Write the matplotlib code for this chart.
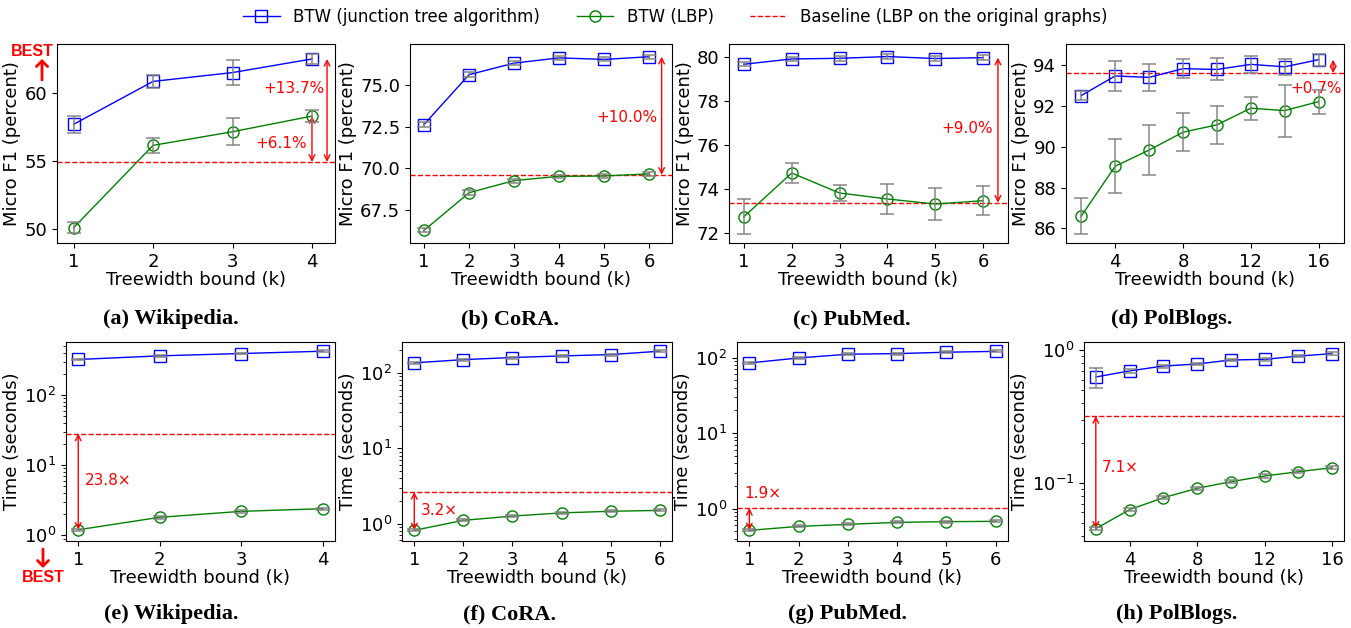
import matplotlib
matplotlib.use('Agg')
import matplotlib.pyplot as plt
from matplotlib.lines import Line2D

# ---- data ----
k_small = [1, 2, 3, 4]
k_six = [1, 2, 3, 4, 5, 6]
k_pol = [2, 4, 6, 8, 10, 12, 14, 16]

# Micro F1 (percent)
wiki_jt = [57.7, 60.85, 61.5, 62.5]
wiki_jt_err = [0.64, 0.5, 0.9, 0.37]
wiki_lbp = [50.1, 56.15, 57.15, 58.3]
wiki_lbp_err = [0.42, 0.54, 1.0, 0.47]
wiki_base = 54.93

cora_jt = [72.62, 75.6, 76.29, 76.6, 76.51, 76.67]
cora_jt_err = [0.15, 0.15, 0.12, 0.12, 0.12, 0.12]
cora_lbp = [66.3, 68.55, 69.28, 69.53, 69.55, 69.68]
cora_lbp_err = [0.12, 0.15, 0.12, 0.1, 0.1, 0.12]
cora_base = 69.62

pub_jt = [79.68, 79.92, 79.95, 80.03, 79.94, 79.98]
pub_jt_err = [0.1, 0.1, 0.1, 0.1, 0.1, 0.1]
pub_lbp = [72.75, 74.74, 73.83, 73.56, 73.33, 73.48]
pub_lbp_err = [0.8, 0.45, 0.35, 0.7, 0.73, 0.66]
pub_base = 73.39

pol_jt = [92.52, 93.48, 93.41, 93.84, 93.8, 94.05, 93.93, 94.28]
pol_jt_err = [0.2, 0.75, 0.67, 0.48, 0.54, 0.4, 0.4, 0.3]
pol_lbp = [86.6, 89.05, 89.84, 90.72, 91.08, 91.9, 91.78, 92.22]
pol_lbp_err = [0.87, 1.33, 1.22, 0.94, 0.92, 0.57, 1.28, 0.59]
pol_base = 93.62

# Time (seconds)
wiki_jt_t = [324, 365, 394, 425]
wiki_lbp_t = [1.2, 1.81, 2.2, 2.4]
wiki_base_t = 28.3

cora_jt_t = [136, 150, 160, 168, 175, 194]
cora_lbp_t = [0.816, 1.107, 1.26, 1.39, 1.46, 1.5]
cora_base_t = 2.63

pub_jt_t = [85, 99, 111, 113, 118, 121]
pub_lbp_t = [0.516, 0.583, 0.62, 0.659, 0.673, 0.68]
pub_base_t = 1.02

pol_jt_t = [0.63, 0.70, 0.762, 0.789, 0.846, 0.855, 0.906, 0.944]
pol_jt_t_err = [0.11, 0.02, 0.02, 0.02, 0.02, 0.02, 0.02, 0.02]
pol_lbp_t = [0.0453, 0.063, 0.0775, 0.0912, 0.1023, 0.113, 0.1217, 0.1305]
pol_base_t = 0.32

captions = ['(a) Wikipedia.', '(b) CoRA.', '(c) PubMed.', '(d) PolBlogs.',
            '(e) Wikipedia.', '(f) CoRA.', '(g) PubMed.', '(h) PolBlogs.']

W, H = 1351, 628
fig = plt.figure(figsize=(W / 100, H / 100), dpi=100)

FS = 13


def add_ax(l, t, r, b):
    return fig.add_axes([l / W, 1 - b / H, (r - l) / W, (b - t) / H])


def draw(ax, x, jt, lbp, base, jt_err=None, lbp_err=None):
    ax.plot(x, jt, color='blue', marker='s', ms=8, mfc='none', lw=1, zorder=3)
    ax.plot(x, lbp, color='green', marker='o', ms=8, mfc='none', lw=1, zorder=3)
    if jt_err is not None:
        ax.errorbar(x, jt, yerr=jt_err, fmt='none', ecolor='gray', capsize=5,
                    elinewidth=1.3, capthick=1.3, alpha=0.8, zorder=4)
    if lbp_err is not None:
        ax.errorbar(x, lbp, yerr=lbp_err, fmt='none', ecolor='gray', capsize=5,
                    elinewidth=1.3, capthick=1.3, alpha=0.8, zorder=4)
    ax.axhline(base, color='red', ls='--', lw=1)
    ax.tick_params(labelsize=FS)
    ax.set_xlabel('Treewidth bound (k)', fontsize=FS, labelpad=0)


def arrow(ax, x, y1, y2):
    ax.annotate('', xy=(x, y1), xytext=(x, y2),
                arrowprops=dict(arrowstyle='<->', color='red', lw=1,
                                shrinkA=0, shrinkB=0))


def note(ax, x, y, s, ha='center'):
    ax.text(x, y, s, color='red', fontsize=11, ha=ha, va='center')


# ---- top row: accuracy ----
ax = add_ax(57, 44, 335, 243)
draw(ax, k_small, wiki_jt, wiki_lbp, wiki_base, wiki_jt_err, wiki_lbp_err)
ax.set_xlim(0.79, 4.29)
ax.set_ylim(48.97, 63.6)
ax.set_xticks(k_small)
ax.set_yticks([50, 55, 60])
arrow(ax, 4.19, wiki_base, wiki_jt[-1])
arrow(ax, 4.0, wiki_base, wiki_lbp[-1])
note(ax, 3.77, 60.3, '+13.7%')
note(ax, 3.61, 56.3, '+6.1%')
ax.set_ylabel('Micro F1 (percent)', fontsize=FS, labelpad=2)

ax = add_ax(410, 44, 672, 243)
draw(ax, k_six, cora_jt, cora_lbp, cora_base, cora_jt_err, cora_lbp_err)
ax.set_xlim(0.69, 6.5)
ax.set_ylim(65.55, 77.43)
ax.set_xticks(k_six)
ax.set_yticks([67.5, 70.0, 72.5, 75.0])
arrow(ax, 6.27, cora_base, cora_jt[-1])
note(ax, 5.5, 73.07, '+10.0%')
ax.set_ylabel('Micro F1 (percent)', fontsize=FS, labelpad=2)

ax = add_ax(729, 44, 1008, 243)
draw(ax, k_six, pub_jt, pub_lbp, pub_base, pub_jt_err, pub_lbp_err)
ax.set_xlim(0.69, 6.52)
ax.set_ylim(71.56, 80.6)
ax.set_xticks(k_six)
ax.set_yticks([72, 74, 76, 78, 80])
arrow(ax, 6.31, pub_base, pub_jt[-1])
note(ax, 5.67, 76.74, '+9.0%')
ax.set_ylabel('Micro F1 (percent)', fontsize=FS, labelpad=2)

ax = add_ax(1066, 44, 1344, 243)
draw(ax, k_pol, pol_jt, pol_lbp, pol_base, pol_jt_err, pol_lbp_err)
ax.set_xlim(1.1, 17.5)
ax.set_ylim(85.28, 95.05)
ax.set_xticks([4, 8, 12, 16])
ax.set_yticks([86, 88, 90, 92, 94])
arrow(ax, 16.86, pol_base, pol_jt[-1])
note(ax, 15.84, 92.87, '+0.7%')
ax.set_ylabel('Micro F1 (percent)', fontsize=FS, labelpad=2)

# ---- bottom row: time ----
ax = add_ax(66, 342, 335, 541)
draw(ax, k_small, wiki_jt_t, wiki_lbp_t, wiki_base_t,
     [v * 0.03 for v in wiki_jt_t], [v * 0.04 for v in wiki_lbp_t])
ax.set_yscale('log')
ax.set_ylim(10 ** -0.081, 10 ** 2.76)
ax.set_xticks(k_small)
arrow(ax, 1, wiki_lbp_t[0], wiki_base_t)
note(ax, 1.08, 6.1, '23.8\u00d7', ha='left')
ax.set_ylabel('Time (seconds)', fontsize=FS, labelpad=2)

ax = add_ax(402, 342, 672, 541)
draw(ax, k_six, cora_jt_t, cora_lbp_t, cora_base_t,
     [v * 0.03 for v in cora_jt_t], [v * 0.03 for v in cora_lbp_t])
ax.set_yscale('log')
ax.set_ylim(10 ** -0.23, 10 ** 2.41)
ax.set_xticks(k_six)
arrow(ax, 1, cora_lbp_t[0], cora_base_t)
note(ax, 1.13, 1.5, '3.2\u00d7', ha='left')
ax.set_ylabel('Time (seconds)', fontsize=FS, labelpad=2)

ax = add_ax(737, 342, 1008, 541)
draw(ax, k_six, pub_jt_t, pub_lbp_t, pub_base_t,
     [v * 0.03 for v in pub_jt_t], [v * 0.03 for v in pub_lbp_t])
ax.set_yscale('log')
ax.set_ylim(10 ** -0.428, 10 ** 2.207)
ax.set_xticks(k_six)
arrow(ax, 1, pub_lbp_t[0], pub_base_t)
note(ax, 0.9, 1.58, '1.9\u00d7', ha='left')
ax.set_ylabel('Time (seconds)', fontsize=FS, labelpad=2)

ax = add_ax(1084, 342, 1344, 541)
draw(ax, k_pol, pol_jt_t, pol_lbp_t, pol_base_t,
     pol_jt_t_err, [v * 0.03 for v in pol_lbp_t])
ax.set_yscale('log')
ax.set_ylim(10 ** -1.437, 10 ** 0.063)
ax.set_xlim(1.3, 16.7)
ax.set_xticks([4, 8, 12, 16])
arrow(ax, 2, pol_lbp_t[0], pol_base_t)
note(ax, 2.33, 0.13, '7.1\u00d7', ha='left')
ax.set_ylabel('Time (seconds)', fontsize=FS, labelpad=2)

# ---- captions ----
cap_x = [171, 510, 852, 1172, 171, 510, 848, 1177]
for i, c in enumerate(captions):
    y = 319 if i < 4 else 614
    fig.text(cap_x[i] / W, 1 - y / H, c, ha='center', va='center',
             fontsize=16, fontweight='bold', family='Liberation Serif')

# ---- BEST markers ----
fig.text(32 / W, 1 - 51 / H, 'BEST', color='red', fontsize=11.5, fontweight='bold',
         family='Liberation Sans', ha='center', va='center')
fig.add_artist(plt.Annotation('', xy=(42 / W, 1 - 59 / H), xytext=(42 / W, 1 - 80 / H),
                              xycoords='figure fraction', textcoords='figure fraction',
                              arrowprops=dict(arrowstyle='->,head_width=0.4,head_length=0.4',
                                              color='red', lw=2, shrinkA=0, shrinkB=0)))
fig.text(43 / W, 1 - 578 / H, 'BEST', color='red', fontsize=11.5, fontweight='bold',
         family='Liberation Sans', ha='center', va='center')
fig.add_artist(plt.Annotation('', xy=(43 / W, 1 - 568 / H), xytext=(43 / W, 1 - 549 / H),
                              xycoords='figure fraction', textcoords='figure fraction',
                              arrowprops=dict(arrowstyle='->,head_width=0.4,head_length=0.4',
                                              color='red', lw=2, shrinkA=0, shrinkB=0)))

# ---- legend ----
handles = [Line2D([], [], color='blue', marker='s', mfc='none', ms=8, lw=1),
           Line2D([], [], color='green', marker='o', mfc='none', ms=8, lw=1),
           Line2D([], [], color='red', ls='--', lw=1)]
labels = ['BTW (junction tree algorithm)', 'BTW (LBP)',
          'Baseline (LBP on the original graphs)']
fig.legend(handles, labels, loc='center', bbox_to_anchor=(0.5, 1 - 17 / H),
           ncol=3, frameon=False, fontsize=12, columnspacing=2.2, handlelength=2.2)

fig.savefig('out.png', dpi=100)
